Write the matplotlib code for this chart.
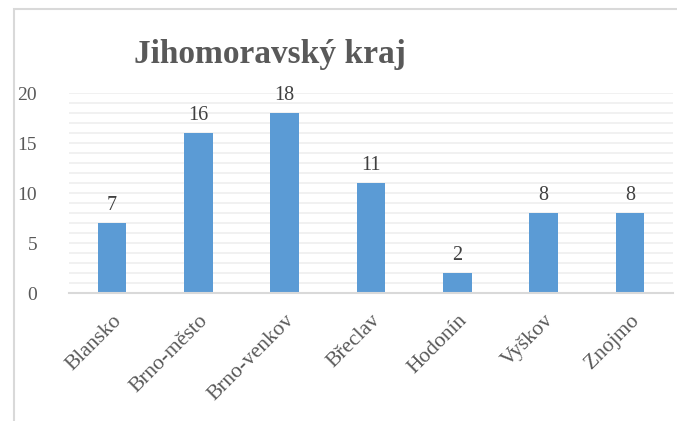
import matplotlib as mplt
mplt.use('Agg')
import numpy as np
import matplotlib.pyplot as plt
from matplotlib.patches import Rectangle

# data
districts = ['Blansko', 'Brno-město', 'Brno-venkov', 'Břeclav', 'Hodonín', 'Vyškov', 'Znojmo']
counts = [7, 16, 18, 11, 2, 8, 8]
y_ticks = [0, 5, 10, 15, 20]

mplt.rc('font', family='Liberation Serif')

def main():
    W, H = 677, 421
    fig = plt.figure(figsize=(W / 100, H / 100), dpi=100)

    # outer chart frame (partly cut off at right/bottom)
    fig.patches.append(Rectangle((14 / W, -0.1), 1.1, 1 - 9 / H + 0.1,
                                 transform=fig.transFigure, fill=False,
                                 ec='#d9d9d9', lw=1.5))

    ax = fig.add_axes([69 / W, 1 - 293 / H, (673 - 69) / W, 200 / H])
    x = np.arange(len(districts))
    ax.bar(x, counts, width=0.33, color='#5b9bd5', zorder=3)

    for xi, c in zip(x, counts):
        ax.text(xi, c + 0.8, str(c), ha='center', va='bottom', fontsize=14.5, color='#404040')

    ax.set_xlim(-0.5, len(districts) - 0.5)
    ax.set_ylim(0, 20)
    ax.set_yticks(y_ticks)
    ax.set_yticks(np.arange(0, 21, 1), minor=True)
    ax.grid(axis='y', which='both', color='#efefef', lw=1.2, zorder=0)
    ax.tick_params(axis='y', which='both', length=0, labelsize=14, labelcolor='#595959', pad=23)
    ax.set_xticks(x)
    ax.set_xticklabels(districts, rotation=45, ha='right', rotation_mode='anchor',
                       fontsize=15.5, color='#595959')
    ax.tick_params(axis='x', length=0, pad=13)

    for s in ['top', 'right', 'left']:
        ax.spines[s].set_visible(False)
    ax.spines['bottom'].set_color('#d9d9d9')
    ax.spines['bottom'].set_linewidth(1.5)
    ax.spines['bottom'].set_zorder(4)

    fig.text(270 / W, 1 - 55 / H, 'Jihomoravský kraj', ha='center', va='center',
             fontsize=24, fontweight='bold', color='#595959')

    fig.savefig('out.png', dpi=100)

if __name__ == '__main__':
    main()
